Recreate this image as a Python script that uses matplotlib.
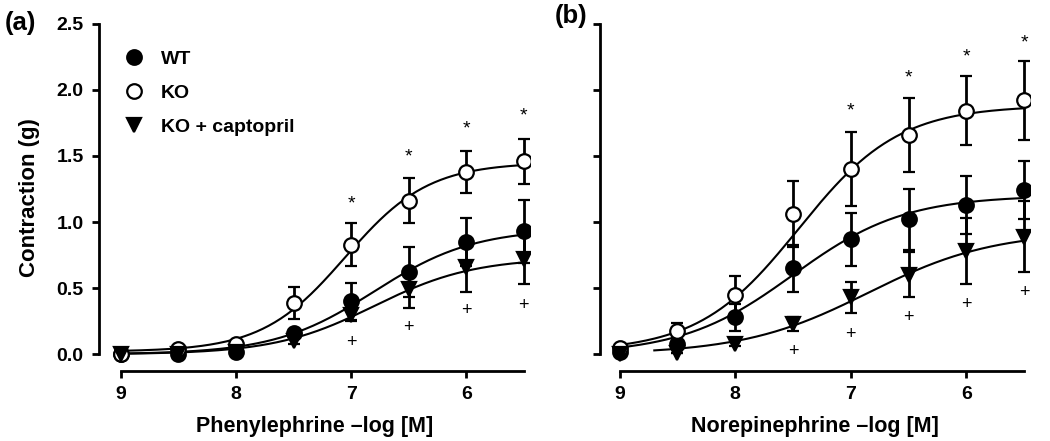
import numpy as np
import matplotlib.pyplot as plt

plt.rcParams['font.family'] = ['Liberation Sans', 'DejaVu Sans']

# -log[M] concentrations
conc = [9, 8.5, 8, 7.5, 7, 6.5, 6, 5.5]

# panel (a) phenylephrine, contraction (g)
pe_wt = [0.0, 0.0, 0.02, 0.16, 0.40, 0.62, 0.85, 0.93]
pe_wt_err = [0.0, 0.0, 0.0, 0.02, 0.14, 0.19, 0.18, 0.24]
pe_ko = [0.0, 0.04, 0.08, 0.39, 0.83, 1.16, 1.38, 1.46]
pe_ko_err = [0.0, 0.02, 0.02, 0.12, 0.16, 0.17, 0.16, 0.17]
pe_cap = [0.0, 0.0, 0.02, 0.10, 0.30, 0.49, 0.66, 0.72]
pe_cap_err = [0.0, 0.0, 0.0, 0.02, 0.05, 0.14, 0.19, 0.19]

# panel (b) norepinephrine, contraction (g)
ne_wt = [0.02, 0.08, 0.28, 0.65, 0.87, 1.02, 1.13, 1.24]
ne_wt_err = [0.0, 0.02, 0.10, 0.18, 0.20, 0.23, 0.22, 0.22]
ne_ko = [0.05, 0.18, 0.45, 1.06, 1.40, 1.66, 1.84, 1.92]
ne_ko_err = [0.02, 0.06, 0.14, 0.25, 0.28, 0.28, 0.26, 0.30]
ne_cap = [0.0, 0.01, 0.08, 0.23, 0.43, 0.60, 0.78, 0.89]
ne_cap_err = [0.0, 0.0, 0.02, 0.05, 0.12, 0.17, 0.25, 0.27]

# fitted sigmoid curves: bottom, top, pEC50, hill slope, first x
pe_fit = {'wt': (0.0, 0.95, 6.8, 1.0, 9.0),
          'ko': (0.02, 1.45, 7.05, 1.2, 9.0),
          'cap': (0.0, 0.73, 6.8, 1.0, 9.0)}
ne_fit = {'wt': (0.0, 1.2, 7.5, 0.9, 9.0),
          'ko': (0.02, 1.88, 7.45, 1.0, 9.0),
          'cap': (0.0, 0.93, 6.85, 0.8, 8.7)}

# significance marks (x, y)
pe_star_x = [7, 6.5, 6, 5.5]
pe_star_y = [1.14, 1.49, 1.70, 1.80]
pe_plus_x = [7, 6.5, 6, 5.5]
pe_plus_y = [0.09, 0.20, 0.33, 0.37]
ne_star_x = [7, 6.5, 6, 5.5]
ne_star_y = [1.84, 2.09, 2.25, 2.35]
ne_plus_x = [7.5, 7, 6.5, 6, 5.5]
ne_plus_y = [0.02, 0.15, 0.28, 0.38, 0.47]


def hill(x, p):
    b, t, pec, n, _ = p
    return b + (t - b) / (1 + 10 ** (n * (x - pec)))


fig = plt.figure(figsize=(10.5, 4.41), dpi=100)
ax_a = fig.add_axes([0.0943, 0.1587, 0.41, 0.788])
ax_b = fig.add_axes([0.5714, 0.1587, 0.4095, 0.788])

styles = {'wt': dict(marker='o', mfc='black', label='WT'),
          'ko': dict(marker='o', mfc='white', label='KO'),
          'cap': dict(marker='v', mfc='black', label='KO + captopril')}

panels = [
    (ax_a, pe_fit, {'wt': (pe_wt, pe_wt_err), 'ko': (pe_ko, pe_ko_err), 'cap': (pe_cap, pe_cap_err)},
     pe_star_x, pe_star_y, pe_plus_x, pe_plus_y, 'Phenylephrine \u2013log [M]', 9.19),
    (ax_b, ne_fit, {'wt': (ne_wt, ne_wt_err), 'ko': (ne_ko, ne_ko_err), 'cap': (ne_cap, ne_cap_err)},
     ne_star_x, ne_star_y, ne_plus_x, ne_plus_y, 'Norepinephrine \u2013log [M]', 9.17),
]

for ax, fits, series, sx, sy, px, py, xlabel, xleft in panels:
    for key in ['cap', 'wt', 'ko']:
        p = fits[key]
        xs = np.linspace(p[4], 5.5, 200)
        ax.plot(xs, hill(xs, p), color='black', lw=1.5, zorder=2)
    for key in ['wt', 'ko', 'cap']:
        vals, errs = series[key]
        st = styles[key]
        ax.errorbar(conc, vals, yerr=errs, fmt=st['marker'], mfc=st['mfc'], mec='black',
                    ms=10.5, mew=1.6, ecolor='black', elinewidth=2.0, capsize=4.5, capthick=2.0,
                    label=st['label'], zorder=3)
    for x, y in zip(sx, sy):
        ax.text(x, y, '*', ha='center', va='center', fontsize=14, clip_on=False)
    for x, y in zip(px, py):
        ax.text(x, y, '+', ha='center', va='center', fontsize=13, clip_on=False)

    ax.set_xlim(xleft, 5.45)
    ax.set_ylim(-0.126, 2.5)
    for s in ['top', 'right']:
        ax.spines[s].set_visible(False)
    ax.spines['left'].set_bounds(0, 2.5)
    ax.spines['bottom'].set_bounds(9, 5.5)
    for s in ['left', 'bottom']:
        ax.spines[s].set_linewidth(2.0)
    ax.set_xticks([9, 8, 7, 6])
    ax.set_yticks([0, 0.5, 1.0, 1.5, 2.0, 2.5])
    ax.tick_params(direction='out', length=5, width=2.0, labelsize=14, pad=6)
    for lab in ax.get_xticklabels() + ax.get_yticklabels():
        lab.set_fontweight('bold')
    ax.set_xlabel(xlabel, fontsize=15.5, fontweight='bold', labelpad=9)

ax_a.set_yticklabels(['0.0', '0.5', '1.0', '1.5', '2.0', '2.5'], fontweight='bold')
ax_b.set_yticklabels([])
ax_a.set_ylabel('Contraction (g)', fontsize=16, fontweight='bold', labelpad=12)

handles, labels = ax_a.get_legend_handles_labels()
handles = [h[0] for h in handles]
ax_a.legend(handles, labels, loc='upper left', bbox_to_anchor=(0.04, 0.945), frameon=False,
            handlelength=1.0, handletextpad=0.9, labelspacing=0.85, borderaxespad=0,
            prop={'size': 14, 'weight': 'bold'})

fig.text(0.005, 0.975, '(a)', fontsize=18.5, fontweight='bold', va='top')
fig.text(0.528, 0.992, '(b)', fontsize=18.5, fontweight='bold', va='top')

fig.savefig('out.png', dpi=100)
